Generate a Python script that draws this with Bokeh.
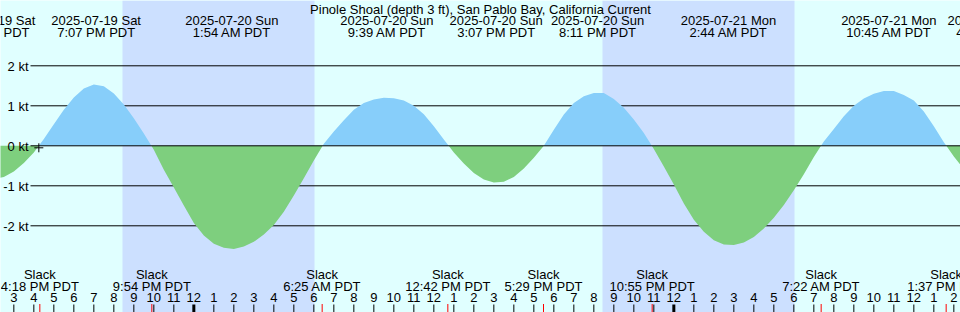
import numpy as np
import pandas as pd
from bokeh.plotting import figure
from bokeh.models import Range1d
from bokeh.core.properties import value
from bokeh.embed import file_html
from bokeh.resources import INLINE

# ---------------- data ----------------
TITLE = "Pinole Shoal (depth 3 ft), San Pablo Bay, California Current"

# current speed (kt, + flood / - ebb), one reading every 30 minutes from SERIES_START
SERIES_START = "2025-07-19 14:00"
SERIES_STEP_MIN = 30
CURRENT_KT = [
    -0.83, -0.78, -0.64, -0.43, -0.17, 0.17, 0.54, 0.90, 1.21, 1.43,
    1.53, 1.49, 1.31, 1.03, 0.69, 0.31, -0.10, -0.60, -1.04, -1.49,
    -1.93, -2.24, -2.45, -2.55, -2.58, -2.52, -2.40, -2.22, -1.98, -1.65,
    -1.24, -0.81, -0.37, 0.05, 0.36, 0.64, 0.90, 1.07, 1.16, 1.20,
    1.19, 1.13, 1.00, 0.79, 0.49, 0.16, -0.17, -0.44, -0.68, -0.84,
    -0.92, -0.90, -0.78, -0.57, -0.30, 0.00, 0.40, 0.78, 1.07, 1.24,
    1.32, 1.32, 1.17, 0.95, 0.66, 0.32, -0.08, -0.52, -0.97, -1.44,
    -1.85, -2.15, -2.36, -2.47, -2.48, -2.42, -2.28, -2.07, -1.80, -1.48,
    -1.11, -0.71, -0.28, 0.11, 0.42, 0.74, 1.00, 1.18, 1.30, 1.37,
    1.37, 1.27, 1.13, 0.86, 0.49, 0.09, -0.27, -0.58,
]

# max flood / max ebb events (top labels)
EXTREME_TIMES = [
    "2025-07-19 13:50", "2025-07-19 19:07", "2025-07-20 01:54",
    "2025-07-20 09:39", "2025-07-20 15:07", "2025-07-20 20:11",
    "2025-07-21 02:44", "2025-07-21 10:45", "2025-07-21 16:04",
]
# slack water events (bottom labels)
SLACK_TIMES = [
    "2025-07-19 16:18", "2025-07-19 21:54", "2025-07-20 06:25",
    "2025-07-20 12:42", "2025-07-20 17:29", "2025-07-20 22:55",
    "2025-07-21 07:22", "2025-07-21 13:37",
]
SUNSET_TIMES = ["2025-07-19 20:26", "2025-07-20 20:26"]
SUNRISE_TIMES = ["2025-07-20 06:02", "2025-07-21 06:02"]

KT_TICKS = [2, 1, 0, -1, -2]
NOW_TIME = "2025-07-19 16:15"
NOW_KT = -0.05

VIEW_START = "2025-07-19 14:20"
VIEW_HOURS = 48

# ---------------- style / layout ----------------
W, H = 960, 312
DAY = "#e0ffff"
NIGHT = "#cce0ff"
FLOOD = "#87cefa"
EBB = "#7ecf7e"
FONT = value("Liberation Sans")
FS = "13px"

Y_TOP = 3.6325          # kt at top pixel row
PX_PER_KT = 40.0


def ms(s):
    return pd.Timestamp(s).value / 1e6


x0 = ms(VIEW_START)
x1 = x0 + VIEW_HOURS * 3600e3
MS_PER_PX = (x1 - x0) / W
y_bottom = Y_TOP - H / PX_PER_KT


def xpx(px):
    return x0 + px * MS_PER_PX


def ypx(px):
    return Y_TOP - px / PX_PER_KT


def fmt_time(ts):
    h = ts.hour % 12 or 12
    ap = "AM" if ts.hour < 12 else "PM"
    return f"{h}:{ts.minute:02d} {ap} PDT"


def label(xv, yv, txt, align="center", **kw):
    p.text(x=xv, y=yv, text=txt, text_font=FONT, text_font_size=FS, text_align=align,
           text_baseline="alphabetic", text_color="black", **kw)


p = figure(width=W, height=H, x_range=Range1d(x0, x1), y_range=Range1d(y_bottom, Y_TOP),
           output_backend="svg", toolbar_location=None,
           x_axis_location=None, y_axis_location=None, min_border=0,
           outline_line_color=None, background_fill_color=DAY, border_fill_color=DAY)
p.grid.visible = False

# night shading
p.quad(left=[ms(s) for s in SUNSET_TIMES], right=[ms(s) for s in SUNRISE_TIMES],
       bottom=y_bottom, top=Y_TOP, fill_color=NIGHT, line_color=None)

# kt lines (non-zero under the fill)
nz = [k for k in KT_TICKS if k != 0]
p.segment(x0=[xpx(30)] * len(nz), x1=[x1] * len(nz), y0=nz, y1=nz,
          line_color="black", line_width=1)

# current curve with zero crossings
t_ms = np.array([ms(s) for s in pd.date_range(SERIES_START, periods=len(CURRENT_KT),
                                               freq=f"{SERIES_STEP_MIN}min")])
v = np.array(CURRENT_KT, dtype=float)
xs, ys = [t_ms[0]], [v[0]]
for i in range(1, len(v)):
    a, b = v[i - 1], v[i]
    if a * b < 0:
        xs.append(t_ms[i - 1] + (t_ms[i] - t_ms[i - 1]) * a / (a - b))
        ys.append(0.0)
    xs.append(t_ms[i])
    ys.append(b)
xs = np.array(xs)
ys = np.array(ys)
p.varea(x=xs, y1=np.zeros_like(ys), y2=np.maximum(ys, 0), fill_color=FLOOD)
p.varea(x=xs, y1=np.zeros_like(ys), y2=np.minimum(ys, 0), fill_color=EBB)

# zero line on top
p.segment(x0=[xpx(30)], x1=[x1], y0=[0], y1=[0], line_color="black", line_width=1)

# y labels
label([xpx(28)] * len(KT_TICKS), KT_TICKS, [f"{k} kt" for k in KT_TICKS],
      align="right", y_offset=1)

# title and extreme labels
label([(x0 + x1) / 2], [ypx(8.8)], [TITLE])
ext = [pd.Timestamp(s) for s in EXTREME_TIMES]
ex = [ms(s) for s in EXTREME_TIMES]
label(ex, [ypx(19.5)] * len(ext), [e.strftime("%Y-%m-%d %a") for e in ext])
label(ex, [ypx(31.8)] * len(ext), [fmt_time(e) for e in ext])

# slack labels
sl = [pd.Timestamp(s) for s in SLACK_TIMES]
sx = [ms(s) for s in SLACK_TIMES]
label(sx, [ypx(273.8)] * len(sl), ["Slack"] * len(sl))
label(sx, [ypx(285.5)] * len(sl), [fmt_time(s) for s in sl])

# hour ticks and labels
hours = pd.date_range(pd.Timestamp(VIEW_START).ceil("h"), periods=VIEW_HOURS, freq="h")
hx = [ms(h) for h in hours]
label(hx, [ypx(296.8)] * len(hx), [str(h.hour % 12 or 12) for h in hours])
reg = [x for x, h in zip(hx, hours) if h.hour != 0]
mid = [x for x, h in zip(hx, hours) if h.hour == 0]
p.segment(x0=reg, x1=reg, y0=[ypx(304)] * len(reg), y1=[y_bottom] * len(reg),
          line_color="black", line_width=1)
p.segment(x0=mid, x1=mid, y0=[ypx(304)] * len(mid), y1=[y_bottom] * len(mid),
          line_color="black", line_width=3)
p.segment(x0=sx, x1=sx, y0=[ypx(303.5)] * len(sx), y1=[y_bottom] * len(sx),
          line_color="red", line_width=1)

# now marker
p.scatter(x=[ms(NOW_TIME)], y=[NOW_KT], marker="cross", size=9, line_color="black",
          line_width=1)

open("out.html", "w").write(file_html(p, INLINE))
